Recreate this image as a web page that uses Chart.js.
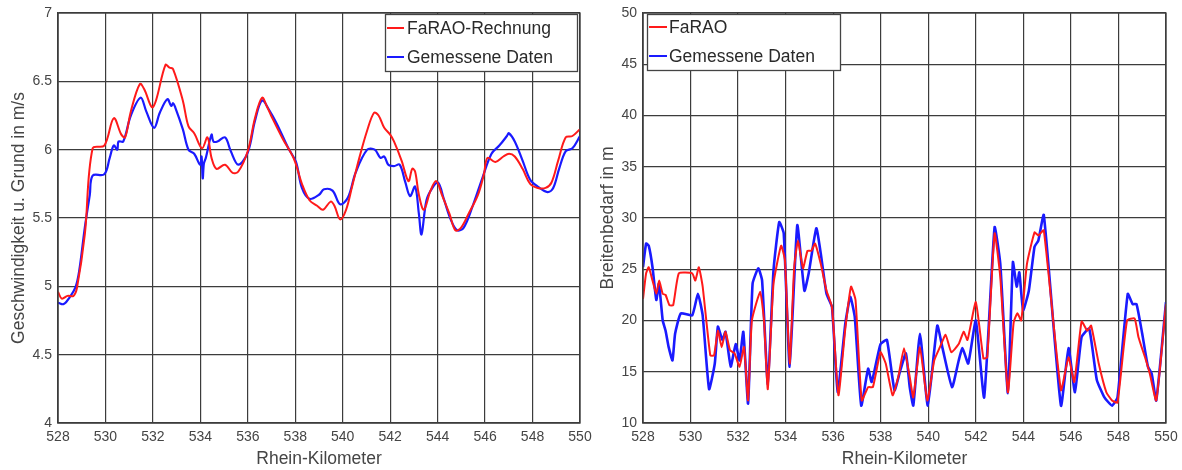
<!DOCTYPE html>
<html><head><meta charset="utf-8">
<script src="https://cdn.jsdelivr.net/npm/chart.js@4.4.1/dist/chart.umd.min.js"></script>
<style>
html,body{margin:0;padding:0;background:#fff;}
#wrap{position:relative;width:1182px;height:470px;}
#c1{position:absolute;left:0;top:0;}
#c2{position:absolute;left:590px;top:0;}
</style></head>
<body><div id="wrap"><canvas id="c1" width="610" height="470"></canvas><canvas id="c2" width="592" height="470"></canvas></div>
<script>
// ---- shared axis ----
const xTicks = [528,530,532,534,536,538,540,542,544,546,548,550];
const xTitle = "Rhein-Kilometer";

// ---- left chart: Geschwindigkeit ----
const speedTitle = "Geschwindigkeit u. Grund in m/s";
const speedTicks = [4,4.5,5,5.5,6,6.5,7];
const speedLabels = ["FaRAO-Rechnung","Gemessene Daten"];
const speedRedKm = [528,528.16,528.4,528.65,528.8,529.13,529.46,529.95,530.35,530.67,530.83,531.07,531.45,531.64,531.96,532.13,532.53,532.7,532.85,533.26,533.5,533.74,534.07,534.3,534.47,534.68,535.04,535.36,535.6,536.0,536.3,536.6,536.82,536.98,537.47,537.95,538.28,538.6,538.92,539.17,539.49,539.65,539.89,540.14,540.38,540.7,541.03,541.32,541.51,541.75,542.0,542.16,542.48,542.77,542.93,543.05,543.21,543.42,543.7,543.94,544.18,544.5,544.75,544.99,545.3,545.7,545.95,546.1,546.43,546.77,547.01,547.25,547.58,547.9,548.22,548.55,548.8,549.08,549.4,549.68,550];
const speedRed = [4.96,4.91,4.93,4.93,4.99,5.38,6.01,6.03,6.23,6.11,6.09,6.28,6.48,6.44,6.31,6.36,6.62,6.60,6.59,6.36,6.17,6.12,6.01,6.09,5.94,5.86,5.89,5.83,5.84,5.99,6.23,6.38,6.31,6.25,6.08,5.93,5.75,5.63,5.59,5.56,5.62,5.59,5.49,5.56,5.72,5.94,6.14,6.27,6.25,6.16,6.11,6.06,5.92,5.77,5.86,5.84,5.67,5.56,5.70,5.77,5.67,5.53,5.41,5.43,5.53,5.67,5.82,5.94,5.91,5.95,5.97,5.95,5.86,5.75,5.72,5.72,5.76,5.92,6.09,6.10,6.15];
const speedBlueKm = [528,528.24,528.49,528.73,528.89,529.13,529.34,529.46,529.95,530.18,530.35,530.5,530.55,530.75,531.07,531.48,531.72,532.05,532.29,532.61,532.77,532.85,532.94,533.26,533.5,533.74,533.99,534.05,534.1,534.15,534.23,534.47,534.55,534.72,535.04,535.28,535.6,536.0,536.3,536.6,536.9,537.22,537.71,538.03,538.28,538.6,539.0,539.21,539.57,539.89,540.22,540.54,541.03,541.35,541.59,541.75,541.92,542.16,542.4,542.64,542.84,543.05,543.21,543.32,543.53,543.78,544.02,544.26,544.55,544.82,545.1,545.46,545.9,546.27,546.6,546.92,547.0,547.25,547.58,547.9,548.22,548.63,548.87,549.12,549.4,549.68,550];
const speedBlue = [4.88,4.87,4.92,4.99,5.11,5.43,5.67,5.81,5.82,5.94,6.03,6.0,6.06,6.06,6.25,6.38,6.28,6.16,6.27,6.37,6.32,6.34,6.31,6.15,6.0,5.97,5.89,5.95,5.79,5.90,5.94,6.11,6.06,6.06,6.09,5.99,5.89,5.98,6.21,6.36,6.29,6.19,6.01,5.91,5.72,5.64,5.67,5.71,5.70,5.60,5.65,5.83,6.0,6.0,5.94,5.95,5.89,5.88,5.89,5.76,5.66,5.73,5.53,5.38,5.63,5.72,5.76,5.64,5.49,5.41,5.43,5.58,5.80,5.97,6.03,6.10,6.12,6.06,5.92,5.78,5.73,5.69,5.72,5.86,5.99,6.01,6.10];

// ---- right chart: Breitenbedarf ----
const widthTitle = "Breitenbedarf in m";
const widthTicks = [10,15,20,25,30,35,40,45,50];
const widthLabels = ["FaRAO","Gemessene Daten"];
const widthRedKm = [528,528.13,528.24,528.4,528.56,528.68,528.83,528.95,529.11,529.27,529.51,530.07,530.2,530.35,530.51,530.83,530.99,531.15,531.31,531.47,531.66,531.85,532.06,532.25,532.42,532.58,532.93,533.09,533.25,533.49,533.81,533.97,534.17,534.36,534.52,534.73,534.92,535.08,535.24,535.48,535.72,535.95,536.22,536.51,536.75,536.94,537.2,537.47,537.67,537.99,538.21,538.5,538.74,538.98,539.22,539.37,539.65,539.96,540.25,540.49,540.73,540.97,541.28,541.49,541.65,542.0,542.32,542.48,542.79,543.03,543.35,543.59,543.75,543.91,544.15,544.47,544.63,544.86,545.58,545.9,546.14,546.45,546.69,546.85,547.17,547.49,547.73,547.96,548.36,548.68,548.84,549.16,549.32,549.59,550];
const widthRed = [22.1,24.6,25.2,23.9,22.6,23.9,22.6,22.5,21.5,21.5,24.6,24.6,23.9,25.2,23.3,16.6,16.6,19.0,17.4,18.9,17.1,16.8,15.5,17.4,12.2,20.0,22.8,20.0,13.3,23.6,27.3,25.9,15.8,25.2,27.8,25.1,26.8,26.8,27.5,25.5,22.9,21.3,12.7,19.2,23.3,22.0,12.2,13.5,13.5,16.9,15.8,12.7,14.5,17.3,14.5,12.5,17.4,12.2,16.1,17.4,18.6,16.9,17.7,18.9,18.1,21.8,16.3,16.4,28.5,24.2,13.0,19.8,20.7,20.0,25.5,28.6,28.3,28.8,13.2,16.4,14.0,19.9,19.0,19.5,15.8,13.0,12.2,12.0,20.0,20.2,18.4,16.1,14.8,12.2,21.6];
const widthBlueKm = [528,528.13,528.24,528.4,528.56,528.67,528.83,528.95,529.08,529.24,529.35,529.59,530.07,530.31,530.51,530.78,531.02,531.15,531.34,531.47,531.69,531.9,532.06,532.22,532.42,532.61,532.85,533.01,533.25,533.49,533.73,533.92,534.17,534.49,534.79,534.97,535.29,535.48,535.72,535.95,536.19,536.51,536.72,536.91,537.18,537.47,537.62,537.99,538.26,538.58,538.82,539.06,539.22,539.37,539.65,539.98,540.38,540.6,541.0,541.28,541.44,541.68,542.0,542.35,542.79,543.03,543.35,543.56,543.72,543.83,543.99,544.23,544.47,544.63,544.86,545.58,545.9,546.17,546.45,546.77,547.09,547.41,547.73,547.96,548.39,548.6,548.76,549.0,549.24,549.4,549.59,550];
const widthBlue = [25.2,27.5,27.3,25.2,22.0,23.6,20.0,19.0,17.4,16.1,18.7,20.7,20.5,22.6,20.5,13.3,15.8,19.4,18.1,18.9,15.5,17.7,16.1,18.9,11.9,23.6,25.1,23.9,13.8,24.9,29.6,28.5,15.5,29.3,22.9,24.6,29.0,26.5,22.6,21.3,13.0,19.7,22.3,20.3,11.7,15.3,14.0,17.7,18.1,13.2,15.1,16.8,13.5,11.7,18.7,11.7,19.5,17.3,13.5,16.1,17.3,15.8,20.0,12.5,29.1,25.5,12.9,25.7,23.3,24.7,21.0,22.9,27.2,27.8,30.3,11.7,17.3,13.0,18.4,19.2,14.2,12.5,11.7,12.5,22.6,21.6,21.6,18.7,15.5,14.8,12.2,21.8];

const RED = "#ff1a1a", BLUE = "#1a1aff", GRID = "#3c3c3c", TXT = "#454545";
const FONT = "'Liberation Sans', Arial, sans-serif";

function pts(xs, ys){ return xs.map((x,i)=>({x:x,y:ys[i]})); }

const legendBox = {
  id:'legendBox',
  afterDatasetsDraw(chart, args, o){
    const ctx = chart.ctx;
    ctx.save();
    ctx.fillStyle = '#fff';
    ctx.fillRect(o.x, o.y, o.w, o.h);
    ctx.strokeStyle = '#444'; ctx.lineWidth = 1.3;
    ctx.strokeRect(o.x+0.5, o.y+0.5, o.w, o.h);
    ctx.font = "17.5px " + FONT;
    ctx.textBaseline = 'middle';
    chart.data.datasets.forEach((ds,i)=>{
      const yy = o.y + o.row0 + i*o.rowH;
      ctx.strokeStyle = ds.borderColor; ctx.lineWidth = 2;
      ctx.beginPath(); ctx.moveTo(o.x+2, yy); ctx.lineTo(o.x+2+o.lineW, yy); ctx.stroke();
      ctx.fillStyle = '#2a2a2a';
      ctx.fillText(ds.label, o.x+o.textX, yy+1);
    });
    ctx.restore();
  }
};

function makeChart(id, datasets, yTicks, yTitle, yWidth, pad, legend, mode){
  const yMin = yTicks[0], yMax = yTicks[yTicks.length-1];
  return new Chart(document.getElementById(id), {
    type:'line',
    data:{datasets:datasets.map(d=>({
      label:d.label, data:d.data, borderColor:d.color, borderWidth:d.w,
      pointRadius:0, fill:false, tension: mode==='smooth'?0.35:0.15
    }))},
    options:{
      responsive:false, animation:false, events:[],
      layout:{padding:pad},
      plugins:{legend:{display:false}, tooltip:{enabled:false}, legendBox:legend},
      scales:{
        x:{type:'linear', min:528, max:550,
           afterBuildTicks(s){ s.ticks = xTicks.map(v=>({value:v})); },
           afterFit(s){ s.height = 47; s.paddingLeft = 0; s.paddingRight = 0; },
           grid:{color:GRID, lineWidth:1.2, drawTicks:false},
           border:{color:GRID, width:1.3},
           ticks:{color:TXT, font:{family:FONT, size:14}, padding:6, maxRotation:0, callback:v=>String(v)},
           title:{display:true, text:xTitle, color:TXT, font:{family:FONT, size:17.5}, padding:{top:0,bottom:0}}
        },
        y:{type:'linear', min:yMin, max:yMax,
           afterBuildTicks(s){ s.ticks = yTicks.map(v=>({value:v})); },
           afterFit(s){ s.width = yWidth; s.paddingTop = 0; s.paddingBottom = 0; },
           grid:{color:GRID, lineWidth:1.2, drawTicks:false},
           border:{color:GRID, width:1.3},
           ticks:{color:TXT, font:{family:FONT, size:14}, padding:6, callback:v=>String(v)},
           title:{display:true, text:yTitle, color:TXT, font:{family:FONT, size:17.5}, padding:{top:0,bottom:1}}
        }
      }
    },
    plugins:[legendBox, {
      id:'frame',
      afterDraw(chart){
        const a = chart.chartArea, ctx = chart.ctx;
        ctx.save(); ctx.strokeStyle = GRID; ctx.lineWidth = 1.3;
        ctx.strokeRect(a.left, a.top, a.right-a.left, a.bottom-a.top);
        ctx.restore();
      }
    }]
  });
}

makeChart('c1', [
  {label:speedLabels[0], data:pts(speedRedKm, speedRed), color:RED, w:2},
  {label:speedLabels[1], data:pts(speedBlueKm, speedBlue), color:BLUE, w:2.2}
], speedTicks, speedTitle, 49, {top:13,right:30,left:9,bottom:0},
  {x:385, y:14, w:192, h:57, row0:14, rowH:29, lineW:17, textX:22}, 'smooth');

makeChart('c2', [
  {label:widthLabels[0], data:pts(widthRedKm, widthRed), color:RED, w:2},
  {label:widthLabels[1], data:pts(widthBlueKm, widthBlue), color:BLUE, w:2.6}
], widthTicks, widthTitle, 45, {top:13,right:16,left:8,bottom:0},
  {x:57, y:14, w:193, h:56, row0:13, rowH:29, lineW:18, textX:22}, 'sharp');
</script></body></html>
